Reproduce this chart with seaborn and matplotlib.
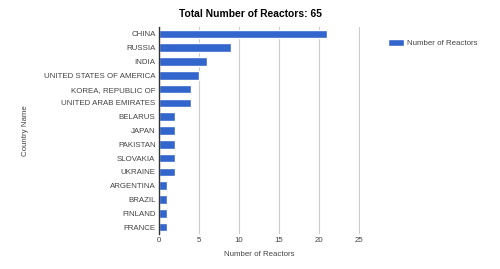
import matplotlib
matplotlib.use("Agg")
import matplotlib.pyplot as plt
import seaborn as sns
import pandas as pd

countries = ["CHINA", "RUSSIA", "INDIA", "UNITED STATES OF AMERICA", "KOREA, REPUBLIC OF",
             "UNITED ARAB EMIRATES", "BELARUS", "JAPAN", "PAKISTAN", "SLOVAKIA", "UKRAINE",
             "ARGENTINA", "BRAZIL", "FINLAND", "FRANCE"]
reactors = [21, 9, 6, 5, 4, 4, 2, 2, 2, 2, 2, 1, 1, 1, 1]
x_ticks = [0, 5, 10, 15, 20, 25]
title = "Total Number of Reactors: 65"

df = pd.DataFrame({"Country Name": countries, "Number of Reactors": reactors})

sns.set_theme(style="white")
plt.rcParams['font.family'] = ['Liberation Sans', 'DejaVu Sans']

fs = 5.7
fig = plt.figure(figsize=(5.0, 2.69), dpi=100)
ax = fig.add_axes([159/500, 1 - 234/269, (360 - 159)/500, (234 - 27)/269])

sns.barplot(data=df, x="Number of Reactors", y="Country Name", color="#3366CC",
            saturation=1, width=0.62, ax=ax, label="Number of Reactors")

ax.set_xlim(0, 25.1)
ax.set_xticks(x_ticks)
ax.xaxis.grid(True, color="#cccccc", linewidth=0.8)
ax.set_axisbelow(True)
for s in ["top", "right", "bottom"]:
    ax.spines[s].set_visible(False)
ax.spines["left"].set_color("#333333")
ax.spines["left"].set_linewidth(1.0)
ax.tick_params(axis="both", length=0, labelsize=fs, labelcolor="#444444", pad=2.5)
ax.set_xlabel("Number of Reactors", fontsize=fs, color="#444444", labelpad=5)
ax.set_ylabel("Country Name", fontsize=fs, color="#444444")
ax.yaxis.set_label_coords(-0.645, 0.5)

fig.text(0.5, 1 - 14/269, title, ha="center", va="center", fontsize=7.4, fontweight="bold", color="#000000")

leg = ax.legend(loc="upper left", bbox_to_anchor=(1.125, 0.955), frameon=False, fontsize=fs,
                handlelength=2.0, handleheight=0.9, handletextpad=0.4, borderaxespad=0)
for t in leg.get_texts():
    t.set_color("#444444")

fig.savefig("out.png", dpi=100)
